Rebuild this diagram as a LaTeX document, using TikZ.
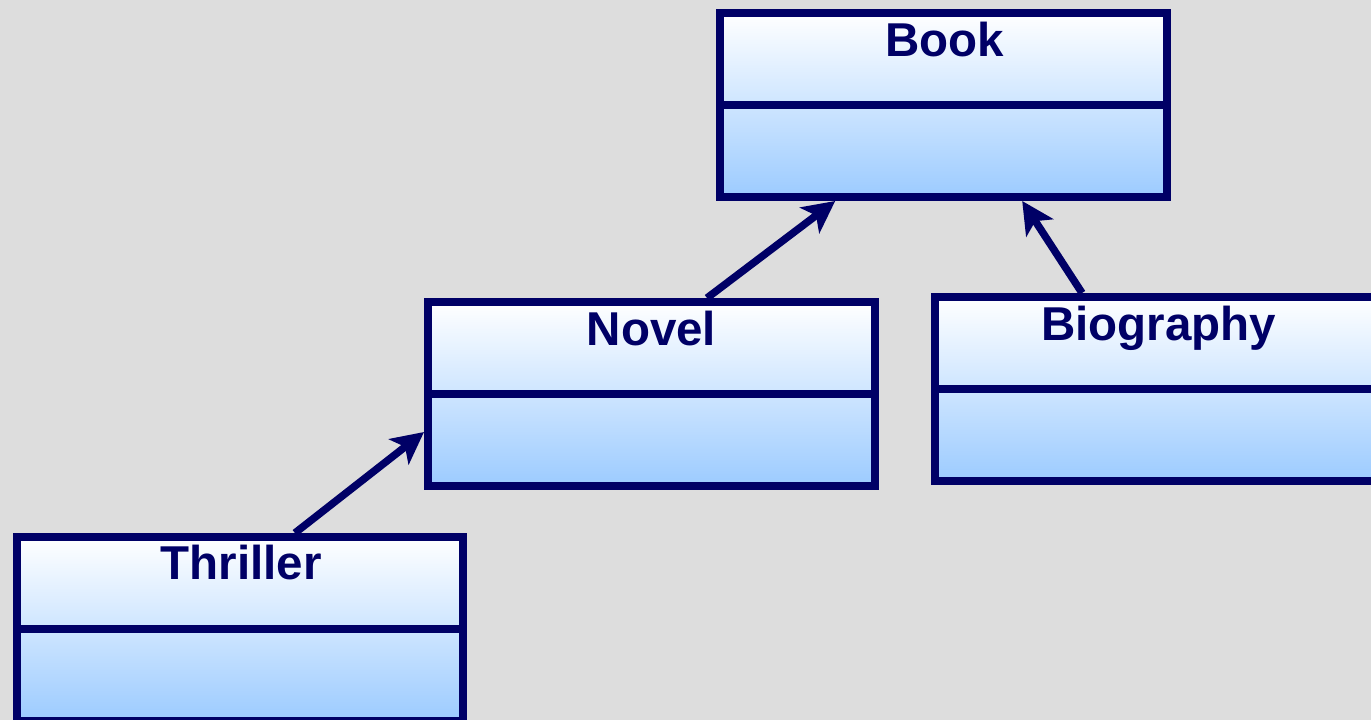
\documentclass[tikz,border=0pt]{standalone}
\usepackage{fontspec}
\setmainfont{Liberation Sans}
\usetikzlibrary{arrows.meta,calc}
\definecolor{navy}{HTML}{000066}
\definecolor{bg}{HTML}{DDDDDD}
\definecolor{boxtop}{HTML}{FFFFFF}
\definecolor{boxbot}{HTML}{9CCBFF}
\begin{document}
\begin{tikzpicture}[x=1pt,y=-1pt,
 classbox/.style={draw=navy, line width=8pt, top color=boxtop, bottom color=boxbot,
   minimum width=447pt, minimum height=184pt, inner sep=0pt, anchor=north west, rectangle},
 classtitle/.style={font=\fontsize{47.5}{50}\selectfont\bfseries, text=navy, anchor=base, inner sep=0pt},
 divider/.style={draw=navy, line width=8pt},
 inherit/.style={draw=navy, line width=7.5pt, -{Stealth[length=32pt,width=32pt,inset=8pt]}}]
\fill[bg] (0,0) rectangle (1371,720);
\useasboundingbox (0,0) rectangle (1371,720);

\node[classbox] (book) at (716,9) {};
\node[classbox] (novel) at (424,298) {};
\node[classbox] (bio) at (931,293) {};
\node[classbox, minimum width=446pt] (thriller) at (13,533) {};

\foreach \n in {book,novel,bio,thriller}{
  \draw[divider] (\n.west) -- (\n.east);
}

\node[classtitle] (tbook) at ($(book.north)+(1,47)$) {Book};
\node[classtitle] (tnovel) at ($(novel.north)+(0,47)$) {Novel};
\node[classtitle] (tbio) at ($(bio.north)+(0,47)$) {Biography};
\node[classtitle] (tthriller) at ($(thriller.north)+(1,46)$) {Thriller};

\draw[inherit] ($(novel.north west)!0.622!(novel.north east)$) -- ($(book.south west)!0.262!(book.south east)$);
\draw[inherit] ($(bio.north west)!0.332!(bio.north east)$) -- ($(book.south west)!0.673!(book.south east)$);
\draw[inherit] ($(thriller.north west)!0.621!(thriller.north east)$) -- ($(novel.north west)!0.698!(novel.south west)$);
\end{tikzpicture}
\end{document}
